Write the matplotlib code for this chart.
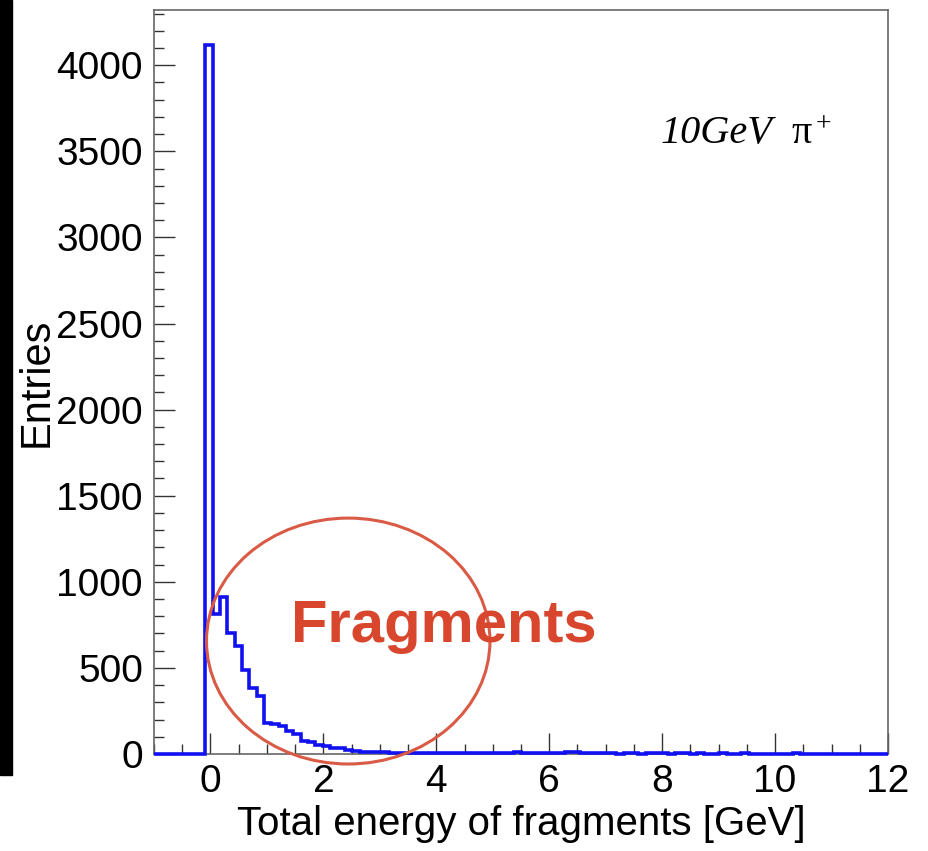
import numpy as np
import matplotlib
matplotlib.use("Agg")
import matplotlib.pyplot as plt
from matplotlib.patches import Ellipse, Rectangle
from matplotlib.ticker import MultipleLocator

# histogram of total fragment energy, 100 bins from -1 to 12 GeV
x_lo, x_hi, n_bins = -1.0, 12.0, 100
counts = [
    0, 0, 0, 0, 0, 0, 0,
    4115, 815, 910, 705, 625, 490, 385, 335,
    180, 175, 165, 135, 115, 75, 70, 52, 48, 35, 32, 22, 18, 14, 12, 10, 9, 7, 6, 6, 5,
    5, 4, 5, 4, 3, 4, 3, 4, 3, 3, 4, 3,
    8, 10,
    4, 3, 4, 3, 3, 4,
    12, 9,
    4, 3, 3, 4, 3, 2, 3, 3, 2, 3, 4, 3,
    2, 3, 3, 2, 3, 2, 2, 3, 2, 2, 3, 2,
    2, 2, 1, 2, 2, 3, 2, 1, 2, 2, 1, 2,
    1, 2, 1, 1, 2, 1,
]
assert len(counts) == n_bins
edges = np.linspace(x_lo, x_hi, n_bins + 1)

x_ticks = [0, 2, 4, 6, 8, 10, 12]
y_ticks = [0, 500, 1000, 1500, 2000, 2500, 3000, 3500, 4000]

plt.rcParams["font.family"] = ["Liberation Sans", "DejaVu Sans"]

W, H = 929, 851
fig = plt.figure(figsize=(W / 100, H / 100), dpi=100)
ax = fig.add_axes([154 / W, 1 - 754 / H, 734 / W, 744 / H])

ax.stairs(counts, edges, color="#1010f0", lw=2.6, zorder=5, clip_on=False)

ax.set_xlim(x_lo, x_hi)
ax.set_ylim(0, 1.05 * max(counts))
ax.set_xticks(x_ticks)
ax.set_yticks(y_ticks)
ax.xaxis.set_minor_locator(MultipleLocator(0.5))
ax.yaxis.set_minor_locator(MultipleLocator(100))
ax.tick_params(which="both", direction="in", top=False, right=False,
               color="#333333", width=1.0, labelsize=28)
ax.tick_params(which="major", length=15)
ax.tick_params(which="minor", length=7.5)
ax.tick_params(axis="y", pad=8)
ax.tick_params(axis="x", pad=7)
for s in ax.spines.values():
    s.set_color("#666666")
    s.set_linewidth(1.2)

ax.set_xlabel("Total energy of fragments [GeV]", fontsize=29)
ax.set_ylabel("Entries", fontsize=30)
ax.xaxis.set_label_coords(0.5, -0.068)
ax.yaxis.set_label_coords(-0.132, 0.5)

# beam label
fig.text(661 / W, 1 - 143 / H, "10GeV", fontsize=29, family="Liberation Serif",
         style="italic", ha="left", va="baseline")
fig.text(791 / W, 1 - 143 / H, "\u03c0", fontsize=29, family="Liberation Serif",
         ha="left", va="baseline")
fig.text(816 / W, 1 - 131 / H, "+", fontsize=20, family="Liberation Serif",
         ha="left", va="baseline")

# highlighted fragment region
red = "#d9462e"
ax.add_patch(Ellipse((2.44, 656), 5.02, 1428, fill=False, ec="#d95a45", lw=2.2,
                     clip_on=False, zorder=6))
fig.text(444 / W, 1 - 642 / H, "Fragments", fontsize=43, fontweight="bold",
         color=red, ha="center", va="baseline", zorder=7)

# dark strip along the left edge
fig.add_artist(Rectangle((0, 1 - 775 / H), 12 / W, 775 / H, transform=fig.transFigure,
                         color="black", zorder=10))

fig.savefig("out.png", dpi=100)
